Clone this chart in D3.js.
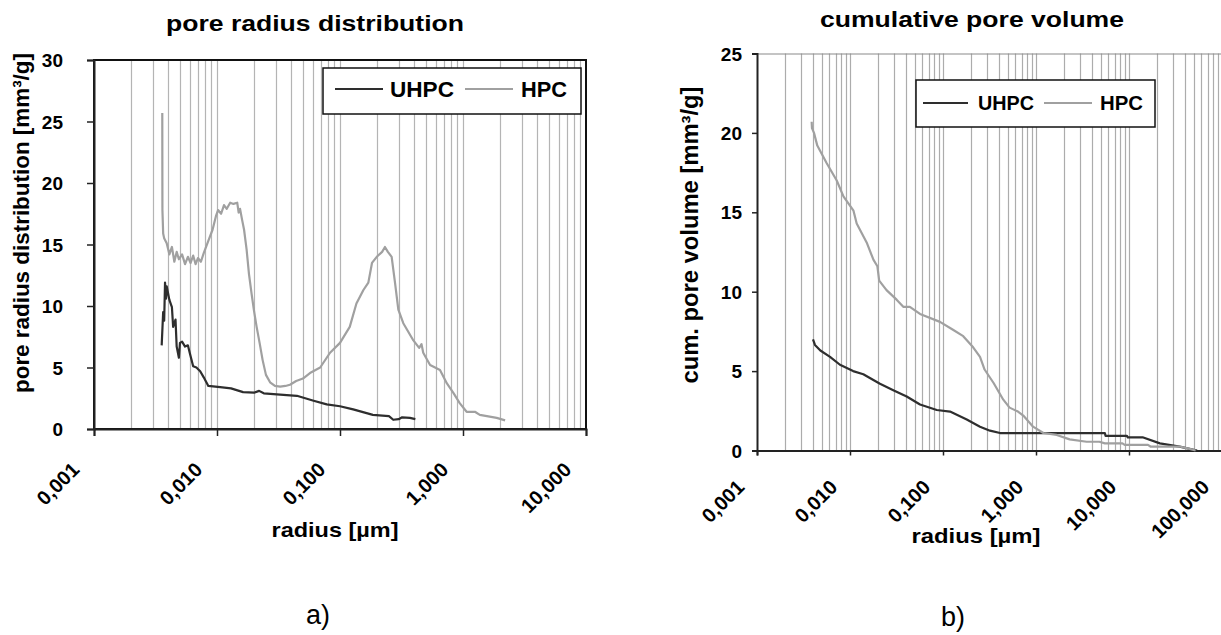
<!DOCTYPE html>
<html>
<head>
<meta charset="utf-8">
<script src="https://cdn.jsdelivr.net/npm/d3@7"></script>
<style>
  body { margin: 0; background: #fff; }
  text { font-family: Arial, "Liberation Sans", sans-serif; font-weight: bold; fill: #000; }
</style>
</head>
<body>
<svg id="chart" width="1221" height="635"></svg>
<script>
// a) pore radius distribution  (radius in µm, value in mm³/g)
var distHpcR = [0.00359, 0.00360, 0.00365, 0.00372, 0.0039, 0.0041, 0.0043, 0.0045, 0.0047, 0.0049,
  0.0052, 0.0055, 0.0058, 0.0061, 0.0064, 0.0067, 0.0070, 0.0074, 0.0078, 0.0085,
  0.0092, 0.0098, 0.0102, 0.0108, 0.0114, 0.0120, 0.0128, 0.0136, 0.0146, 0.0150,
  0.0154, 0.0160, 0.0166, 0.0174, 0.0182, 0.0191, 0.0200, 0.0210, 0.0222, 0.0235,
  0.0250, 0.0270, 0.0296, 0.0326, 0.0360, 0.0392, 0.0440, 0.0500, 0.0580, 0.0690,
  0.0830, 0.100, 0.120, 0.136, 0.155, 0.170, 0.182, 0.199, 0.220, 0.232,
  0.245, 0.263, 0.280, 0.298, 0.327, 0.395, 0.440, 0.460, 0.475, 0.540,
  0.650, 0.740, 0.840, 0.940, 1.07, 1.25, 1.37, 1.88, 2.20];
var distHpcV = [25.7, 17.8, 15.9, 15.5, 15.1, 14.2, 14.8, 13.6, 14.4, 13.8,
  14.2, 13.4, 14.0, 13.5, 14.1, 13.4, 13.9, 13.6, 14.3, 15.3,
  16.2, 17.3, 17.8, 17.5, 18.2, 17.9, 18.4, 18.3, 18.4, 17.6,
  17.9, 17.0, 16.2, 14.6, 12.6, 11.0, 9.6, 8.3, 7.0, 5.6,
  4.4, 3.8, 3.5, 3.45, 3.5, 3.6, 3.9, 4.1, 4.6, 5.0,
  6.2, 7.0, 8.3, 10.2, 11.3, 11.9, 13.5, 14.0, 14.4, 14.8,
  14.4, 14.0, 11.9, 9.7, 8.6, 7.2, 6.6, 6.9, 6.2, 5.2,
  4.8, 3.7, 2.9, 2.1, 1.4, 1.4, 1.15, 0.9, 0.7];
var distUhpcR = [0.00355, 0.00365, 0.00372, 0.00378, 0.00385, 0.0039, 0.0041, 0.0043, 0.0044, 0.0046,
  0.0047, 0.0049, 0.0050, 0.0052, 0.0055, 0.0058, 0.0060, 0.0064, 0.0068, 0.0073,
  0.0078, 0.0085, 0.0106, 0.0130, 0.0163, 0.0200, 0.0220, 0.0240, 0.0326, 0.0446,
  0.061, 0.078, 0.100, 0.128, 0.185, 0.250, 0.271, 0.300, 0.320, 0.370, 0.410];
var distUhpcV = [6.8, 9.5, 8.8, 11.9, 10.6, 11.6, 10.5, 9.9, 8.3, 8.9,
  6.7, 5.8, 7.0, 7.1, 6.7, 6.8, 6.2, 5.1, 5.0, 4.7,
  4.2, 3.5, 3.4, 3.3, 3.0, 2.95, 3.1, 2.9, 2.8, 2.7,
  2.3, 2.0, 1.85, 1.6, 1.15, 1.05, 0.75, 0.8, 0.95, 0.9, 0.8];

// b) cumulative pore volume
var cumHpcR = [0.00387, 0.0039, 0.0041, 0.00445, 0.0056, 0.0072, 0.0085, 0.0109, 0.0118, 0.0151,
  0.0179, 0.0197, 0.0206, 0.0247, 0.0317, 0.0374, 0.044, 0.0566, 0.0928, 0.128,
  0.165, 0.211, 0.250, 0.28, 0.35, 0.445, 0.52, 0.64, 0.73, 0.93,
  1.2, 1.67, 2.3, 3.5, 4.8, 5.5, 8.5, 9.0, 16, 17, 35, 45, 52];
var cumHpcV = [20.7, 20.3, 20.0, 19.2, 18.1, 17.0, 16.0, 15.1, 14.3, 13.1,
  12.0, 11.6, 10.7, 10.1, 9.5, 9.05, 9.05, 8.6, 8.1, 7.6,
  7.2, 6.5, 5.9, 5.1, 4.25, 3.2, 2.7, 2.45, 2.2, 1.5,
  1.1, 0.98, 0.7, 0.55, 0.55, 0.45, 0.45, 0.35, 0.35, 0.25, 0.25, 0.1, 0];
var cumUhpcR = [0.0040, 0.0042, 0.0048, 0.0061, 0.0078, 0.0108, 0.0139, 0.021, 0.0292, 0.0407,
  0.0566, 0.0857, 0.119, 0.180, 0.250, 0.32, 0.41, 5.5, 5.6, 9.5,
  9.7, 14, 21.5, 35, 54];
var cumUhpcV = [7.0, 6.65, 6.3, 5.9, 5.4, 5.0, 4.8, 4.2, 3.8, 3.4,
  2.9, 2.55, 2.45, 1.95, 1.5, 1.25, 1.1, 1.1, 0.92, 0.92,
  0.83, 0.83, 0.45, 0.24, 0];

var seriesNames = ["UHPC", "HPC"];
var seriesColors = ["#2e2e2e", "#a0a0a0"];

var distTicksX = [0.001, 0.01, 0.1, 1, 10];
var distTickLabels = ["0,001", "0,010", "0,100", "1,000", "10,000"];
var cumTicksX = [0.001, 0.01, 0.1, 1, 10, 100];
var cumTickLabels = ["0,001", "0,010", "0,100", "1,000", "10,000", "100,000"];

var svg = d3.select("#chart");

function pairs(r, v) {
  return r.map(function(d, i) { return [d, v[i]]; });
}

function drawPanel(opt) {
  var x = d3.scaleLog().domain(opt.xDomain).range([opt.left, opt.right]);
  var y = d3.scaleLinear().domain([0, opt.yMax]).range([opt.bottom, opt.top]);
  var g = svg.append("g");

  // vertical minor/major gridlines
  g.append("g").selectAll("line")
    .data(x.ticks().filter(function(t) { return t > opt.xDomain[0] * 1.0001 && t < opt.xDomain[1] * 0.9999; }))
    .enter().append("line")
    .attr("x1", function(d) { return Math.round(x(d)) + 0.5; })
    .attr("x2", function(d) { return Math.round(x(d)) + 0.5; })
    .attr("y1", opt.top).attr("y2", opt.bottom)
    .attr("stroke", opt.gridColor).attr("stroke-width", 1.2);

  // frame
  if (opt.fullFrame) {
    g.append("rect")
      .attr("x", opt.left).attr("y", opt.top)
      .attr("width", opt.right - opt.left).attr("height", opt.bottom - opt.top)
      .attr("fill", "none").attr("stroke", "#111").attr("stroke-width", 2);
  } else {
    g.append("line").attr("x1", opt.left).attr("x2", opt.right)
      .attr("y1", opt.top + 0.5).attr("y2", opt.top + 0.5)
      .attr("stroke", "#8a8a8a").attr("stroke-width", 1.2);
  }

  // y axis
  var yAxis = g.append("g")
    .attr("transform", "translate(" + opt.left + ",0)")
    .call(d3.axisLeft(y).tickValues(d3.range(0, opt.yMax + 1, 5)).tickSize(opt.tickLen).tickPadding(opt.yPad));
  yAxis.select(".domain").attr("stroke", "#222").attr("stroke-width", 2);
  yAxis.selectAll(".tick line").attr("stroke", "#222").attr("stroke-width", 1.5);
  yAxis.selectAll(".tick text").style("font-size", "19px").attr("dy", "0.35em");

  // x axis
  var xAxis = g.append("g")
    .attr("transform", "translate(0," + opt.bottom + ")")
    .call(d3.axisBottom(x).tickValues(opt.xTicks).tickSize(opt.tickLen)
      .tickFormat(function(d, i) { return opt.xLabels[i]; }));
  xAxis.select(".domain").attr("stroke", "#222").attr("stroke-width", 2);
  xAxis.selectAll(".tick line").attr("stroke", "#222").attr("stroke-width", 1.5);
  xAxis.selectAll(".tick text")
    .style("font-size", "20px")
    .attr("x", 0).attr("y", 0).attr("dy", 0)
    .attr("text-anchor", "end")
    .attr("transform", "translate(" + opt.xLabDx + "," + opt.xLabDy + ") rotate(-45)");

  // series
  var line = d3.line().x(function(d) { return x(d[0]); }).y(function(d) { return y(d[1]); });
  opt.series.forEach(function(s, i) {
    g.append("path").datum(s)
      .attr("fill", "none")
      .attr("stroke", seriesColors[i])
      .attr("stroke-width", 2.2)
      .attr("stroke-linejoin", "round")
      .attr("d", line);
  });

  // legend
  var lg = opt.legend;
  g.append("rect").attr("x", lg.x).attr("y", lg.y).attr("width", lg.w).attr("height", lg.h)
    .attr("fill", "#fff").attr("stroke", "#111").attr("stroke-width", 1.5);
  seriesNames.forEach(function(n, i) {
    g.append("line").attr("x1", lg.lines[i][0]).attr("x2", lg.lines[i][1])
      .attr("y1", lg.cy).attr("y2", lg.cy)
      .attr("stroke", seriesColors[i]).attr("stroke-width", 2.2);
    g.append("text").attr("x", lg.texts[i][0]).attr("y", lg.cy + lg.fs * 0.36)
      .style("font-size", lg.fs + "px")
      .attr("textLength", lg.texts[i][1]).attr("lengthAdjust", "spacingAndGlyphs")
      .text(n);
  });

  // titles
  svg.append("text").attr("x", opt.title.x).attr("y", opt.title.y)
    .attr("text-anchor", "middle").style("font-size", "22px")
    .attr("textLength", opt.title.len).attr("lengthAdjust", "spacingAndGlyphs")
    .text(opt.title.text);
  svg.append("text")
    .attr("transform", "translate(" + opt.yTitle.x + "," + opt.yTitle.y + ") rotate(-90)")
    .attr("text-anchor", "middle").style("font-size", opt.yTitle.fs + "px")
    .attr("textLength", opt.yTitle.len).attr("lengthAdjust", "spacingAndGlyphs")
    .text(opt.yTitle.text);
  svg.append("text").attr("x", opt.xTitle.x).attr("y", opt.xTitle.y)
    .attr("text-anchor", "middle").style("font-size", "21px")
    .attr("textLength", opt.xTitle.len).attr("lengthAdjust", "spacingAndGlyphs")
    .text("radius [µm]");
  svg.append("text").attr("x", opt.tag.x).attr("y", opt.tag.y)
    .attr("text-anchor", "middle").style("font-size", "27px").style("font-weight", "normal")
    .text(opt.tag.text);
}

drawPanel({
  left: 94, right: 586, top: 60, bottom: 429,
  xDomain: [0.001, 10], yMax: 30,
  xTicks: distTicksX, xLabels: distTickLabels,
  tickLen: 7, yPad: 24, xLabDx: -14, xLabDy: 42,
  gridColor: "#b4b4b4", fullFrame: true,
  series: [pairs(distUhpcR, distUhpcV), pairs(distHpcR, distHpcV)],
  legend: { x: 323, y: 68, w: 258, h: 46, cy: 89, fs: 22,
    lines: [[335, 383], [465, 513]], texts: [[390, 64], [521, 46]] },
  title: { x: 315, y: 31, len: 298, text: "pore radius distribution" },
  yTitle: { x: 29, y: 223, fs: 22, len: 340, text: "pore radius distribution [mm³/g]" },
  xTitle: { x: 335, y: 537, len: 127 },
  tag: { x: 318, y: 624, text: "a)" }
});

drawPanel({
  left: 757, right: 1222, top: 53.5, bottom: 450.5,
  xDomain: [0.001, 100], yMax: 25,
  xTicks: cumTicksX, xLabels: cumTickLabels,
  tickLen: 5, yPad: 10, xLabDx: -12, xLabDy: 38,
  gridColor: "#acacac", fullFrame: false,
  series: [pairs(cumUhpcR, cumUhpcV), pairs(cumHpcR, cumHpcV)],
  legend: { x: 916, y: 80, w: 239, h: 47, cy: 103, fs: 20,
    lines: [[923, 968], [1044, 1092]], texts: [[978, 56], [1100, 43]] },
  title: { x: 972, y: 27, len: 304, text: "cumulative pore volume" },
  yTitle: { x: 698, y: 235, fs: 23, len: 297, text: "cum. pore volume [mm³/g]" },
  xTitle: { x: 976, y: 543, len: 129 },
  tag: { x: 953, y: 626, text: "b)" }
});
</script>
</body>
</html>
